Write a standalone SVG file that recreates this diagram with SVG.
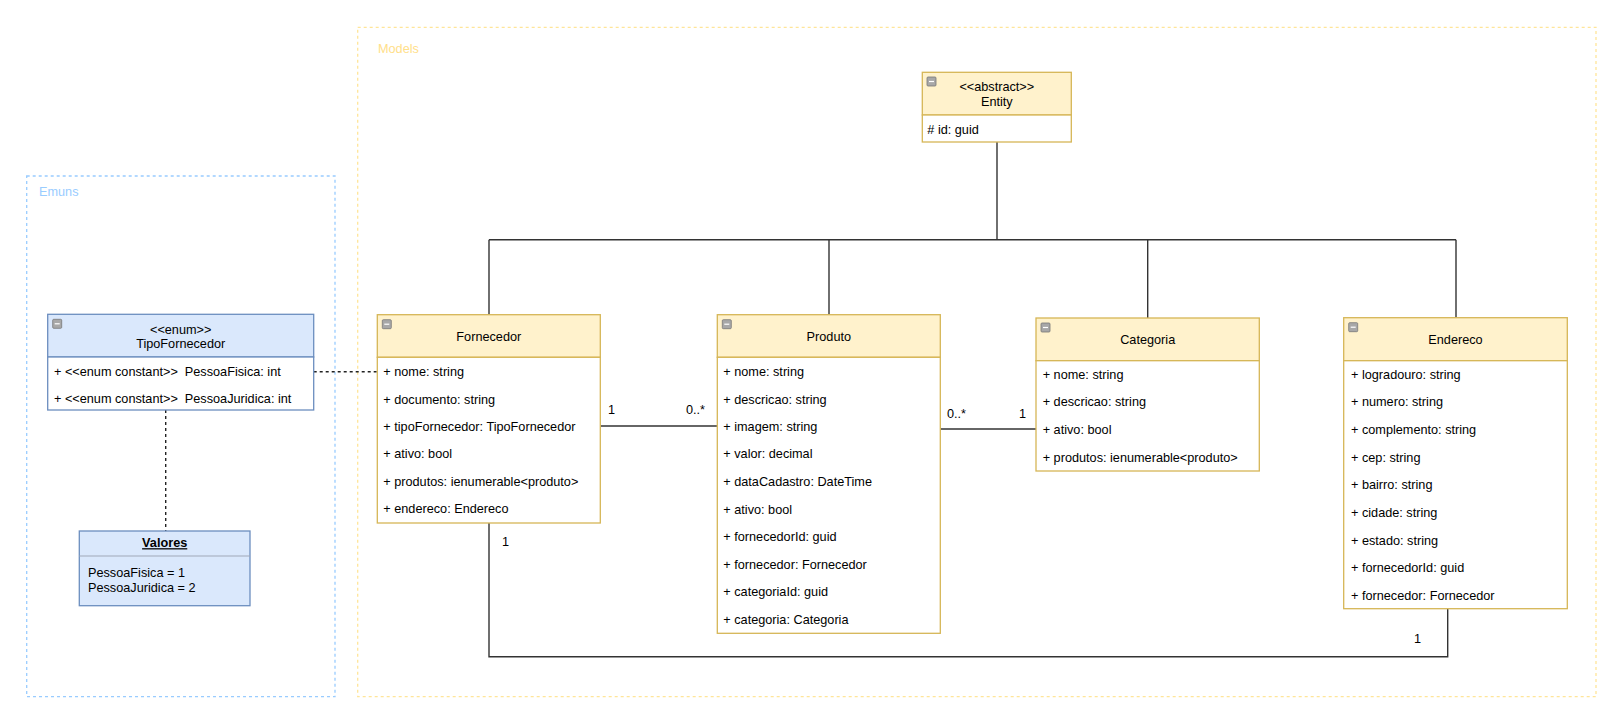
<svg xmlns="http://www.w3.org/2000/svg" width="1620" height="719" viewBox="0 0 1620 719">
<style>
text{font-family:"Liberation Sans",Arial,sans-serif;font-size:12.7px;fill:#000}
.mid{text-anchor:middle}
.yh{fill:#fff2cc;stroke:#d6b656;stroke-width:1.3}
.yb{fill:#fff;stroke:#d6b656;stroke-width:1.3}
.bh{fill:#dae8fc;stroke:#6c8ebf;stroke-width:1.3}
.bb{fill:#fff;stroke:#6c8ebf;stroke-width:1.3}
.ln{fill:none;stroke:#333;stroke-width:1.4}
.dash{fill:none;stroke:#222;stroke-width:1.4;stroke-dasharray:3 3}
.ico{fill:#a8a8a8;stroke:#777;stroke-width:0.8}
.icol{stroke:#fff;stroke-width:1.2}
</style>
<defs>
<g id="icon"><rect class="ico" x="0" y="0" width="9" height="9" rx="1"/><line class="icol" x1="2" y1="4.5" x2="7" y2="4.5"/></g>
</defs>
<rect width="1620" height="719" fill="#fff"/>

<g id="container-emuns">
<rect x="26.7" y="176" width="308.3" height="520.7" fill="none" stroke="#99ccff" stroke-width="1.3" stroke-dasharray="3 3"/>
<text x="39" y="196" style="fill:#99ccff">Emuns</text>
</g>
<g id="container-models">
<rect x="357.7" y="27.3" width="1238.3" height="669.4" fill="none" stroke="#ffe599" stroke-width="1.3" stroke-dasharray="3 3"/>
<text x="378" y="52.5" style="fill:#ffe08a">Models</text>
</g>

<g id="connectors">
<polyline class="ln" points="997,142 997,239.7"/>
<polyline class="ln" points="489,239.7 1456,239.7"/>
<line class="ln" x1="489" y1="239.7" x2="489" y2="314.7"/>
<line class="ln" x1="829" y1="239.7" x2="829" y2="314.7"/>
<line class="ln" x1="1147.7" y1="239.7" x2="1147.7" y2="318"/>
<line class="ln" x1="1456" y1="239.7" x2="1456" y2="317.7"/>
<line class="ln" x1="600.3" y1="426" x2="717.3" y2="426"/>
<line class="ln" x1="940.3" y1="429" x2="1036" y2="429"/>
<polyline class="ln" points="489,523 489,656.7 1447.7,656.7 1447.7,608.7"/>
<line class="dash" x1="313.7" y1="371.7" x2="377.3" y2="371.7"/>
<line class="dash" x1="165.7" y1="410" x2="165.7" y2="531"/>
<text x="608" y="414">1</text>
<text x="686" y="414">0..*</text>
<text x="947" y="418">0..*</text>
<text x="1019" y="418">1</text>
<text x="502" y="546">1</text>
<text x="1414" y="643">1</text>
</g>

<g id="entity">
<rect class="yh" x="922.3" y="72.3" width="149" height="42.7"/>
<rect class="yb" x="922.3" y="115" width="149" height="27"/>
<use href="#icon" x="927" y="77"/>
<text class="mid" x="996.8" y="91">&lt;&lt;abstract&gt;&gt;</text>
<text class="mid" x="996.8" y="106">Entity</text>
<text x="927.3" y="133.5"># id: guid</text>
</g>

<g id="fornecedor">
<rect class="yh" x="377.3" y="314.7" width="223" height="42.6"/>
<rect class="yb" x="377.3" y="357.3" width="223" height="165.7"/>
<use href="#icon" x="382.3" y="319.7"/>
<text class="mid" x="488.8" y="341">Fornecedor</text>
<text x="383.3" y="376.2">+ nome: string</text>
<text x="383.3" y="403.5">+ documento: string</text>
<text x="383.3" y="430.8">+ tipoFornecedor: TipoFornecedor</text>
<text x="383.3" y="458">+ ativo: bool</text>
<text x="383.3" y="485.8">+ produtos: ienumerable&lt;produto&gt;</text>
<text x="383.3" y="513.3">+ endereco: Endereco</text>
</g>

<g id="produto">
<rect class="yh" x="717.3" y="314.7" width="223" height="42.6"/>
<rect class="yb" x="717.3" y="357.3" width="223" height="276"/>
<use href="#icon" x="722.3" y="319.7"/>
<text class="mid" x="828.8" y="341">Produto</text>
<text x="723.3" y="376.2">+ nome: string</text>
<text x="723.3" y="403.5">+ descricao: string</text>
<text x="723.3" y="431">+ imagem: string</text>
<text x="723.3" y="458">+ valor: decimal</text>
<text x="723.3" y="485.5">+ dataCadastro: DateTime</text>
<text x="723.3" y="513.8">+ ativo: bool</text>
<text x="723.3" y="541.2">+ fornecedorId: guid</text>
<text x="723.3" y="568.8">+ fornecedor: Fornecedor</text>
<text x="723.3" y="596.2">+ categoriaId: guid</text>
<text x="723.3" y="623.5">+ categoria: Categoria</text>
</g>

<g id="categoria">
<rect class="yh" x="1036" y="318" width="223.3" height="42.7"/>
<rect class="yb" x="1036" y="360.7" width="223.3" height="110.3"/>
<use href="#icon" x="1041" y="323"/>
<text class="mid" x="1147.7" y="343.8">Categoria</text>
<text x="1042.7" y="378.8">+ nome: string</text>
<text x="1042.7" y="406.2">+ descricao: string</text>
<text x="1042.7" y="433.5">+ ativo: bool</text>
<text x="1042.7" y="461.5">+ produtos: ienumerable&lt;produto&gt;</text>
</g>

<g id="endereco">
<rect class="yh" x="1343.7" y="317.7" width="223.6" height="43"/>
<rect class="yb" x="1343.7" y="360.7" width="223.6" height="248"/>
<use href="#icon" x="1348.7" y="322.7"/>
<text class="mid" x="1455.5" y="343.8">Endereco</text>
<text x="1351" y="378.8">+ logradouro: string</text>
<text x="1351" y="406.2">+ numero: string</text>
<text x="1351" y="433.8">+ complemento: string</text>
<text x="1351" y="461.8">+ cep: string</text>
<text x="1351" y="489.2">+ bairro: string</text>
<text x="1351" y="516.8">+ cidade: string</text>
<text x="1351" y="544.5">+ estado: string</text>
<text x="1351" y="572.2">+ fornecedorId: guid</text>
<text x="1351" y="599.8">+ fornecedor: Fornecedor</text>
</g>

<g id="tipofornecedor">
<rect class="bh" x="47.7" y="314.3" width="266" height="42.7"/>
<rect class="bb" x="47.7" y="357" width="266" height="53"/>
<use href="#icon" x="52.7" y="319.3"/>
<text class="mid" x="180.7" y="333.5">&lt;&lt;enum&gt;&gt;</text>
<text class="mid" x="180.7" y="347.5">TipoFornecedor</text>
<text x="54" y="376.2" xml:space="preserve">+ &lt;&lt;enum constant&gt;&gt;  PessoaFisica: int</text>
<text x="54" y="402.8" xml:space="preserve">+ &lt;&lt;enum constant&gt;&gt;  PessoaJuridica: int</text>
</g>

<g id="valores">
<rect class="bh" x="79.3" y="531" width="170.7" height="74.7"/>
<line x1="79.3" y1="556" x2="250" y2="556" stroke="#a0a8b8" stroke-width="1.2"/>
<text class="mid" x="164.7" y="547.2" style="font-weight:bold;text-decoration:underline">Valores</text>
<text x="88" y="576.8">PessoaFisica = 1</text>
<text x="88" y="592.2">PessoaJuridica = 2</text>
</g>
</svg>
